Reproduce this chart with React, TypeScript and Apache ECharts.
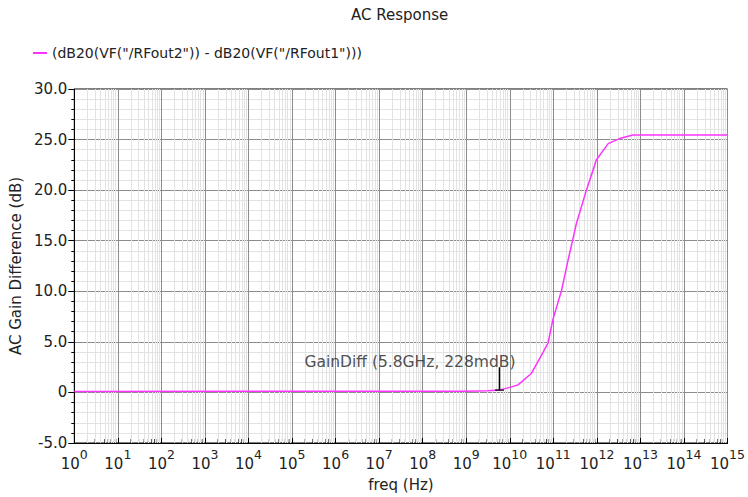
import React, { useEffect, useRef } from "react";
import * as echarts from "echarts";

const titleText = "AC Response";
const seriesName = '(dB20(VF("/RFout2")) - dB20(VF("/RFout1")))';
const xAxisName = "freq (Hz)";
const yAxisName = "AC Gain Difference (dB)";

// x values are log10(freq in Hz)
const logFreq = [0, 9.0, 9.5, 9.76, 10.0, 10.19, 10.5, 10.77, 10.88, 10.99, 11.19, 11.34, 11.53, 11.76, 11.99, 12.26, 12.52, 12.83, 15];
const gainDiff = [0.1, 0.12, 0.17, 0.228, 0.5, 0.75, 1.9, 4.0, 4.9, 7.2, 10.1, 13.1, 16.7, 20.0, 23.0, 24.6, 25.1, 25.45, 25.45];

const decades = [0, 1, 2, 3, 4, 5, 6, 7, 8, 9, 10, 11, 12, 13, 14];
const minorMultipliers = [2, 3, 4, 5, 6, 7, 8, 9];

const markerFreqHz = 5.8e9;
const markerValue = 0.228;
const markerTop = 2.5;
const markerLabel = "GainDiff (5.8GHz, 228mdB)";

const xMin = 0;
const xMax = 15;
const yMin = -5;
const yMax = 30;
const yInterval = 5;

const FONT = "DejaVu Sans";
const TEXT = "#222";

export default function App() {
  const ref = useRef<HTMLDivElement>(null);
  useEffect(() => {
    document.body.style.margin = "0";
    if (!ref.current) return;
    const chart = echarts.init(ref.current, undefined, { renderer: "svg" });
    const minorXs: number[] = [];
    decades.forEach((d) => minorMultipliers.forEach((m) => minorXs.push(d + Math.log10(m))));
    const markerX = Math.log10(markerFreqHz);

    chart.setOption({
      animation: false,
      textStyle: { fontFamily: FONT },
      title: {
        text: titleText,
        left: 346,
        top: 2,
        textStyle: { fontSize: 15, fontWeight: "normal", color: TEXT, fontFamily: FONT },
      },
      legend: {
        data: [seriesName],
        left: 28,
        top: 41,
        icon: "rect",
        itemWidth: 14,
        itemHeight: 2,
        itemGap: 6,
        textStyle: { fontSize: 14, color: TEXT, fontFamily: FONT },
      },
      grid: {
        left: 74,
        right: 20,
        top: 89,
        bottom: 53,
        show: true,
        borderColor: "#000",
        borderWidth: 1,
        backgroundColor: "#fff",
      },
      xAxis: {
        type: "value",
        min: xMin,
        max: xMax,
        interval: 1,
        z: 2,
        name: xAxisName,
        nameLocation: "middle",
        nameGap: 34,
        nameTextStyle: { fontSize: 15, color: TEXT, fontFamily: FONT },
        axisLine: { onZero: false, lineStyle: { color: "#000", width: 1 } },
        axisTick: { show: true, inside: true, length: 5, lineStyle: { color: "#000" } },
        splitLine: { show: true, lineStyle: { color: "#8c8c8c", width: 1 } },
        axisLabel: {
          margin: 5,
          formatter: (v: number) => `{b|10}{s|${Math.round(v)}}`,
          rich: {
            b: { fontSize: 15, color: TEXT, fontFamily: FONT, lineHeight: 23, verticalAlign: "bottom" },
            s: { fontSize: 12.5, color: TEXT, fontFamily: FONT, lineHeight: 12, verticalAlign: "top" },
          },
        },
      },
      yAxis: {
        type: "value",
        min: yMin,
        max: yMax,
        interval: yInterval,
        z: 2,
        name: yAxisName,
        nameLocation: "middle",
        nameGap: 41,
        nameTextStyle: { fontSize: 15, color: TEXT, fontFamily: FONT },
        axisLine: { show: true, onZero: false, lineStyle: { color: "#000", width: 1 } },
        axisTick: { show: true, length: 6, lineStyle: { color: "#000" } },
        minorTick: { show: true, splitNumber: 5, length: 3, lineStyle: { color: "#000" } },
        splitLine: { show: true, lineStyle: { color: "#8c8c8c", width: 1 } },
        minorSplitLine: { show: true, lineStyle: { color: "#e3e3e3", width: 1 } },
        axisLabel: {
          fontSize: 15,
          color: TEXT,
          fontFamily: FONT,
          margin: 7,
          formatter: (v: number) => (v === 0 ? "0" : v.toFixed(1)),
        },
      },
      series: [
        {
          name: "minorGrid",
          type: "line",
          data: [],
          z: 1,
          silent: true,
          markLine: {
            silent: true,
            symbol: "none",
            animation: false,
            label: { show: false },
            lineStyle: { color: "#e3e3e3", type: "solid", width: 1 },
            data: minorXs.map((v) => ({ xAxis: v })),
          },
        },
        {
          name: "minorTicks",
          type: "scatter",
          data: minorXs.map((v) => [v, yMin]),
          symbol: "rect",
          symbolSize: [1, 4],
          symbolOffset: [0, -2],
          itemStyle: { color: "#000" },
          silent: true,
          clip: false,
          z: 4,
        },
        {
          name: seriesName,
          type: "line",
          data: logFreq.map((x, i) => [x, gainDiff[i]]),
          symbol: "none",
          lineStyle: { color: "#ff33ff", width: 1.5 },
          itemStyle: { color: "#ff33ff" },
          z: 5,
        },
        {
          name: "markerLine",
          type: "line",
          data: [
            [markerX, markerValue],
            [markerX, markerTop],
          ],
          symbol: "none",
          lineStyle: { color: "#000", width: 1.5 },
          silent: true,
          z: 6,
        },
        {
          name: "markerPoint",
          type: "scatter",
          silent: true,
          z: 6,
          data: [
            { value: [markerX, markerValue], symbol: "rect", symbolSize: [9, 1.5], itemStyle: { color: "#000" } },
            {
              value: [markerX, markerTop],
              symbol: "rect",
              symbolSize: 1,
              itemStyle: { color: "rgba(0,0,0,0)" },
              label: {
                show: true,
                position: "top",
                align: "right",
                distance: 0,
                offset: [16, 3],
                formatter: markerLabel,
                fontSize: 15.5,
                color: TEXT,
                fontFamily: FONT,
              },
            },
          ],
        },
      ],
    });
    return () => chart.dispose();
  }, []);
  return <div ref={ref} style={{ width: 748, height: 497 }} />;
}
